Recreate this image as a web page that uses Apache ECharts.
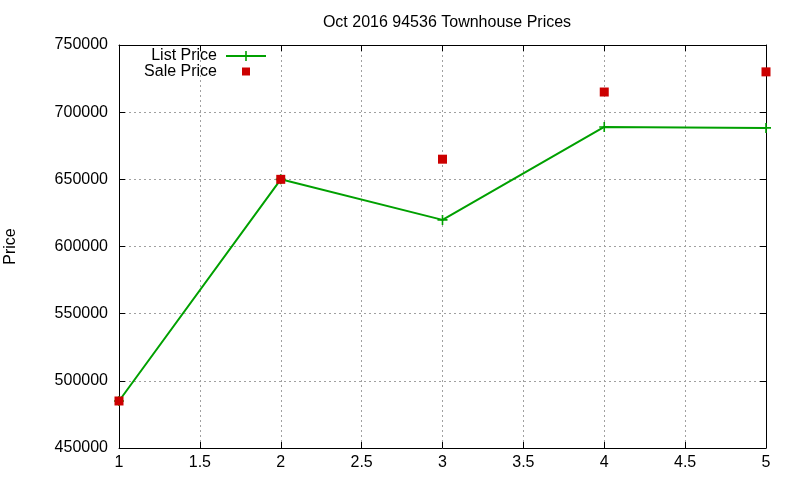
<!DOCTYPE html>
<html><head><meta charset="utf-8">
<script src="https://cdn.jsdelivr.net/npm/echarts@6/dist/echarts.min.js"></script>
<style>html,body{margin:0;padding:0;background:#fff}#c{width:800px;height:480px}</style>
</head><body><div id="c"></div>
<script>
const xValues = [1, 2, 3, 4, 5];
const listPrice = [485000, 650000, 619800, 689000, 688300];
const salePrice = [485000, 650000, 665000, 715000, 730000];
const titleText = 'Oct 2016 94536 Townhouse Prices';
const yAxisName = 'Price';
const legendNames = ['List Price', 'Sale Price'];

const chart = echarts.init(document.getElementById('c'), null, {renderer: 'canvas'});
const font = 'Liberation Sans, Arial, sans-serif';
const plus = 'path://M-0.8,-5L0.8,-5L0.8,-0.8L5,-0.8L5,0.8L0.8,0.8L0.8,5L-0.8,5L-0.8,0.8L-5,0.8L-5,-0.8L-0.8,-0.8Z';
const gridLine = {show: true, lineStyle: {color: '#a0a0a0', type: [2, 3], width: 1}};
chart.setOption({
  animation: false,
  title: {text: titleText, left: 442, textAlign: 'center', top: 10,
    textStyle: {fontFamily: font, fontSize: 16, fontWeight: 'normal', color: '#000'}},
  grid: {left: 119, right: 34, top: 45, bottom: 32, containLabel: false, outerBoundsMode: 'none'},
  xAxis: [{type: 'value', min: 1, max: 5, interval: 0.5,
    axisLine: {show: true, onZero: false, lineStyle: {color: '#000', width: 1}},
    axisTick: {show: true, inside: true, length: 6, lineStyle: {color: '#000'}},
    axisLabel: {color: '#000', fontFamily: font, fontSize: 16, margin: 7},
    splitLine: gridLine},
    {type: 'value', min: 1, max: 5, interval: 0.5, position: 'top',
    axisLine: {show: true, onZero: false, lineStyle: {color: '#000', width: 1}},
    axisTick: {show: true, inside: true, length: 6, lineStyle: {color: '#000'}},
    axisLabel: {show: false}, splitLine: {show: false}}],
  yAxis: [{type: 'value', min: 450000, max: 750000, interval: 50000,
    name: yAxisName, nameLocation: 'middle', nameGap: 100, nameRotate: 90,
    nameTextStyle: {color: '#000', fontFamily: font, fontSize: 16},
    axisLine: {show: true, onZero: false, lineStyle: {color: '#000', width: 1}},
    axisTick: {show: true, inside: true, length: 6, lineStyle: {color: '#000'}},
    axisLabel: {color: '#000', fontFamily: font, fontSize: 16, margin: 11, formatter: v => String(v)},
    splitLine: gridLine},
    {type: 'value', min: 450000, max: 750000, interval: 50000, position: 'right',
    axisLine: {show: true, onZero: false, lineStyle: {color: '#000', width: 1}},
    axisTick: {show: true, inside: true, length: 6, lineStyle: {color: '#000'}},
    axisLabel: {show: false}, splitLine: {show: false}}],
  series: [
    {name: legendNames[0], type: 'line', data: xValues.map((x, i) => [x, listPrice[i]]),
     lineStyle: {color: '#00a000', width: 2}, itemStyle: {color: '#00a000', opacity: 1},
     symbol: plus, symbolSize: 10, showSymbol: true, z: 2},
    {name: legendNames[1], type: 'scatter', data: xValues.map((x, i) => [x, salePrice[i]]),
     itemStyle: {color: '#cc0000', opacity: 1}, symbol: 'rect', symbolSize: 9, z: 3}
  ],
  graphic: [
    {type: 'text', right: 583, top: 48, style: {text: legendNames[0], fill: '#000', font: '16px ' + font, textAlign: 'right'}},
    {type: 'text', right: 583, top: 64, style: {text: legendNames[1], fill: '#000', font: '16px ' + font, textAlign: 'right'}},
    {type: 'line', shape: {x1: 226, y1: 56, x2: 266, y2: 56}, style: {stroke: '#00a000', lineWidth: 2}},
    {type: 'line', shape: {x1: 246, y1: 51, x2: 246, y2: 61}, style: {stroke: '#00a000', lineWidth: 1.6}},
    {type: 'rect', shape: {x: 242, y: 67.5, width: 8, height: 8}, style: {fill: '#cc0000'}}
  ]
});
</script></body></html>
